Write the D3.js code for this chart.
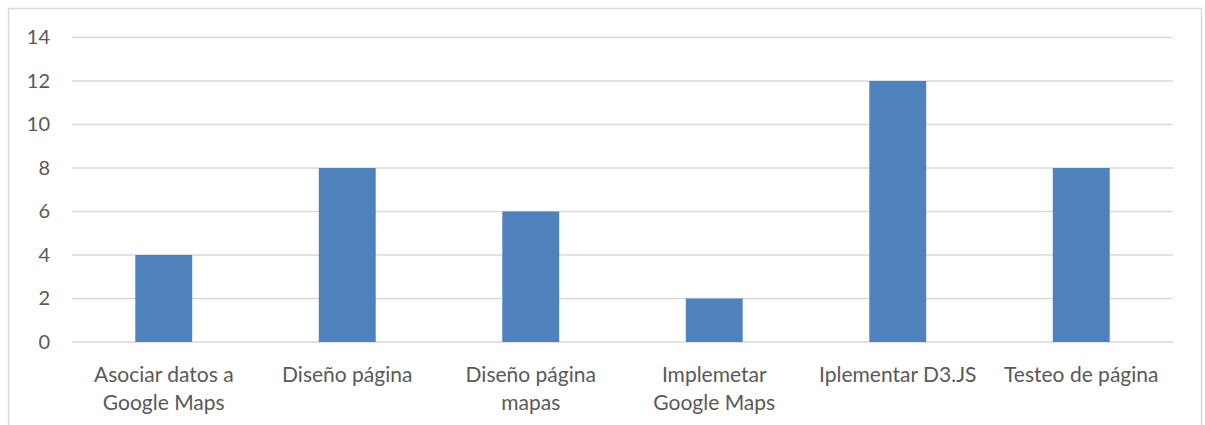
<!DOCTYPE html>
<html lang="es">
<head>
<meta charset="UTF-8">
<title>Tareas</title>
<script src="https://d3js.org/d3.v7.min.js"></script>
<style>
  body { margin: 0; background: #fff; }
  text { font-family: Lato, "Noto Sans", sans-serif; fill: #595959; }
</style>
</head>
<body>
<script>
var categories = [
  ["Asociar datos a", "Google Maps"],
  ["Diseño página"],
  ["Diseño página", "mapas"],
  ["Implemetar", "Google Maps"],
  ["Iplementar D3.JS"],
  ["Testeo de página"]
];
var values = [4, 8, 6, 2, 12, 8];
var yTicks = [0, 2, 4, 6, 8, 10, 12, 14];

var width = 1205, height = 425;
var plotLeft = 72, plotRight = 1173, plotTop = 37.5, plotBottom = 342;

var svg = d3.select("body").append("svg")
    .attr("width", width).attr("height", height);

// chart frame
svg.append("rect")
    .attr("x", 8.5).attr("y", 8.5)
    .attr("width", 1193).attr("height", 430)
    .attr("fill", "none").attr("stroke", "#d9d9d9").attr("stroke-width", 1.5);

var x = d3.scaleBand()
    .domain(d3.range(categories.length))
    .range([plotLeft, plotRight])
    .paddingInner(0.69).paddingOuter(0.345);

var y = d3.scaleLinear().domain([0, 14]).range([plotBottom, plotTop]);

// gridlines
svg.append("g").selectAll("line").data(yTicks).join("line")
    .attr("x1", plotLeft).attr("x2", plotRight)
    .attr("y1", d => y(d)).attr("y2", d => y(d))
    .attr("stroke", "#d9d9d9").attr("stroke-width", 1.5);

// y axis labels
var yAxis = d3.axisLeft(y).tickValues(yTicks).tickSize(0).tickPadding(0);
var yg = svg.append("g").attr("transform", "translate(50,0)").call(yAxis);
yg.select(".domain").remove();
yg.selectAll("text").style("font-size", "20px").attr("fill", "#595959")
    .style("font-family", "Lato, 'Noto Sans', sans-serif");

// bars
svg.append("g").selectAll("rect").data(values).join("rect")
    .attr("x", (d, i) => x(i))
    .attr("y", d => y(d))
    .attr("width", x.bandwidth())
    .attr("height", d => y(0) - y(d))
    .attr("fill", "#4f81bd");

// category labels
var cx = i => x(i) + x.bandwidth() / 2;
var lab = svg.append("g").selectAll("text").data(categories).join("text")
    .attr("text-anchor", "middle")
    .style("font-size", "21px")
    .attr("x", (d, i) => cx(i))
    .attr("y", 382);
lab.selectAll("tspan").data((d, i) => d.map(t => ({t: t, i: i}))).join("tspan")
    .attr("x", d => cx(d.i))
    .attr("dy", (d, j) => j === 0 ? 0 : 28)
    .text(d => d.t);
</script>
</body>
</html>
